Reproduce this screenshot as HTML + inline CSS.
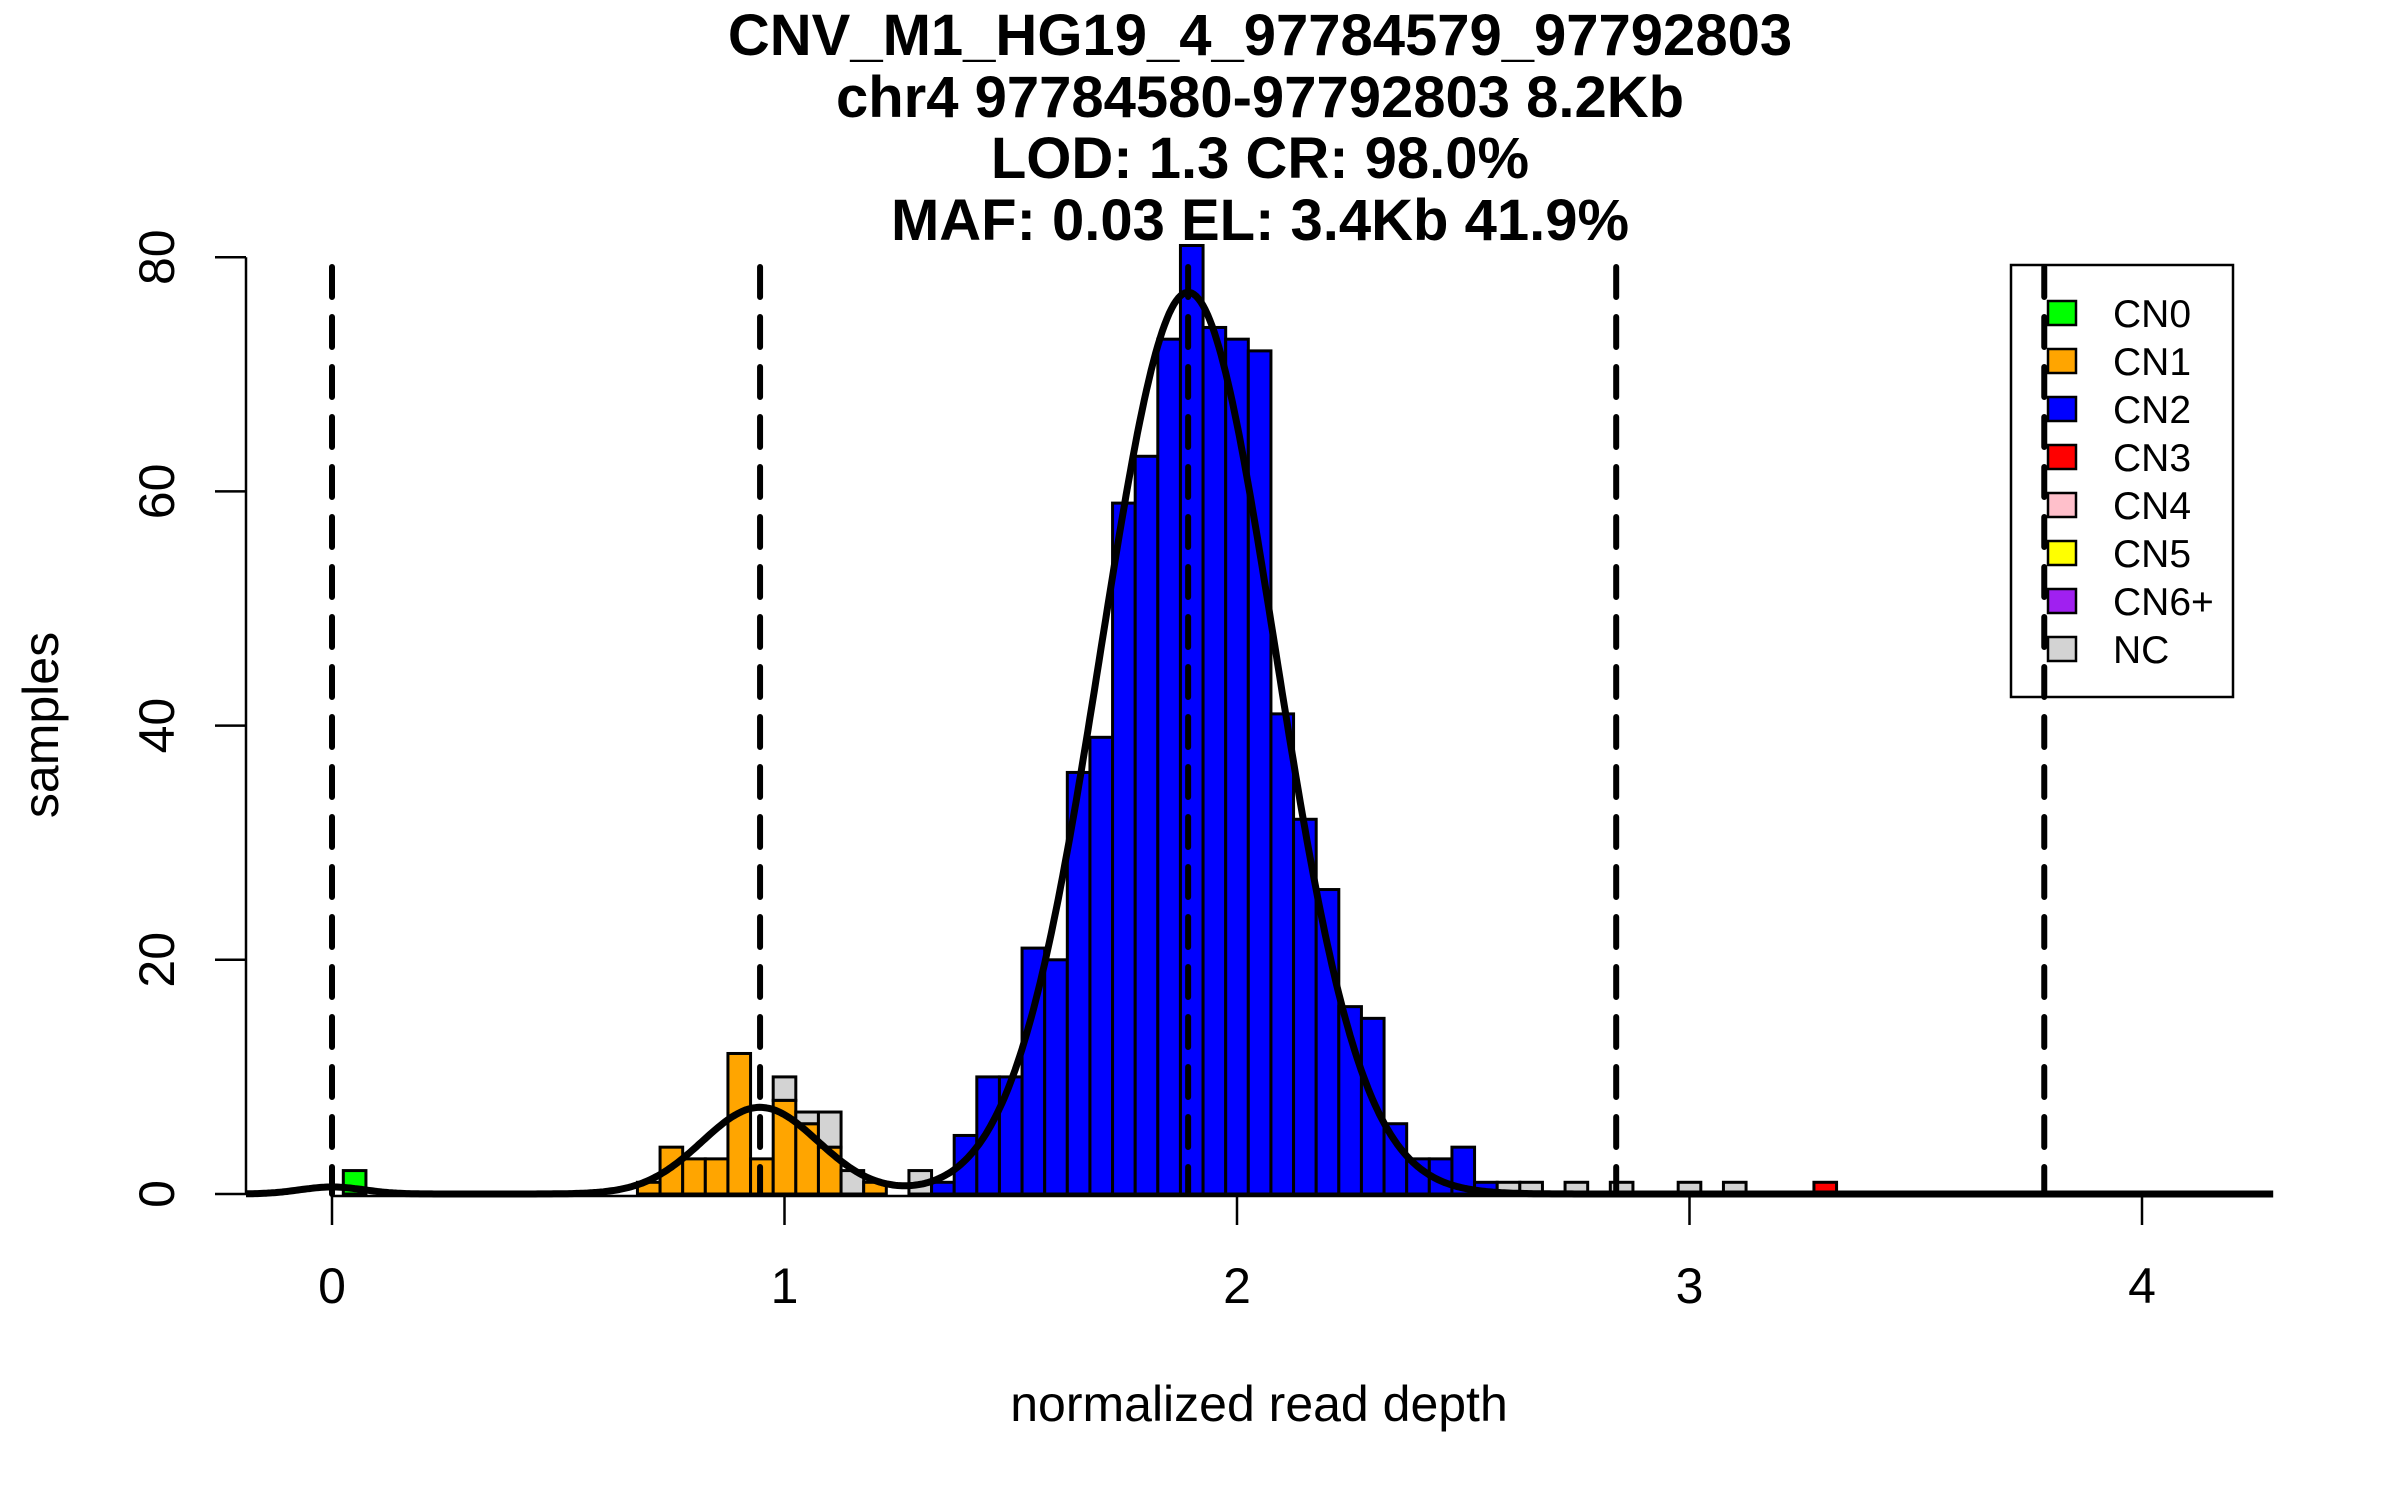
<!DOCTYPE html>
<html><head><meta charset="utf-8"><style>
html,body{margin:0;padding:0;background:#fff;}
svg{display:block;font-family:"Liberation Sans",Arial,sans-serif;}
</style></head><body>
<svg id="chart" width="2400" height="1500" viewBox="0 0 2400 1500" xmlns="http://www.w3.org/2000/svg">
<g font-weight="bold" font-size="58" text-anchor="middle">
<text x="1260" y="55">CNV_M1_HG19_4_97784579_97792803</text>
<text x="1260" y="117">chr4 97784580-97792803 8.2Kb</text>
<text x="1260" y="178">LOD: 1.3 CR: 98.0%</text>
<text x="1260" y="240">MAF: 0.03 EL: 3.4Kb 41.9%</text>
</g>
<g id="bars"></g>
<g id="curve"></g>
<g id="axes"></g>
<text x="1259" y="1421" font-size="50" text-anchor="middle">normalized read depth</text>
<text x="0" y="0" font-size="50" text-anchor="middle" transform="translate(58,725) rotate(-90)">samples</text>
<g id="legend"></g>
<g id="dashes"></g>
</svg>
<script>
// ---- data ----
const binCenters = [0.05,0.70,0.75,0.80,0.85,0.90,0.95,1.00,1.05,1.10,1.15,1.20,1.30,1.35,1.40,1.45,1.50,1.55,1.60,1.65,1.70,1.75,1.80,1.85,1.90,1.95,2.00,2.05,2.10,2.15,2.20,2.25,2.30,2.35,2.40,2.45,2.50,2.55,2.60,2.65,2.75,2.85,3.00,3.10,3.30];
const cn0Counts = [2,0,0,0,0,0,0,0,0,0,0,0,0,0,0,0,0,0,0,0,0,0,0,0,0,0,0,0,0,0,0,0,0,0,0,0,0,0,0,0,0,0,0,0,0];
const cn1Counts = [0,1,4,3,3,12,3,8,6,4,0,1,0,0,0,0,0,0,0,0,0,0,0,0,0,0,0,0,0,0,0,0,0,0,0,0,0,0,0,0,0,0,0,0,0];
const cn2Counts = [0,0,0,0,0,0,0,0,0,0,0,0,0,1,5,10,10,21,20,36,39,59,63,73,81,74,73,72,41,32,26,16,15,6,3,3,4,1,0,0,0,0,0,0,0];
const cn3Counts = [0,0,0,0,0,0,0,0,0,0,0,0,0,0,0,0,0,0,0,0,0,0,0,0,0,0,0,0,0,0,0,0,0,0,0,0,0,0,0,0,0,0,0,0,1];
const ncCounts  = [0,0,0,0,0,0,0,2,1,3,2,0,2,0,0,0,0,0,0,0,0,0,0,0,0,0,0,0,0,0,0,0,0,0,0,0,0,0,1,1,1,1,1,1,0];
const binWidth = 0.05;
const compMeans = [0, 0.946, 1.892];
const compPeaks = [0.6, 7.4, 77];
const compSds = [0.07, 0.128, 0.192];
const cnLines = [0, 0.946, 1.892, 2.838, 3.784];
const xTicks = [0,1,2,3,4];
const yTicks = [0,20,40,60,80];
const legendLabels = ["CN0","CN1","CN2","CN3","CN4","CN5","CN6+","NC"];
const legendColors = ["#00ff00","#ffa500","#0000ff","#ff0000","#ffc0cb","#ffff00","#a020f0","#d3d3d3"];

const NS = "http://www.w3.org/2000/svg";
const X = v => 332 + v * 452.5;
const Y = c => 1194 - c * 11.71;
function mk(tag, attrs, parent){const e=document.createElementNS(NS,tag);for(const k in attrs)e.setAttribute(k,attrs[k]);parent.appendChild(e);return e;}

// bars
const barsG = document.getElementById('bars');
const series = [[cn0Counts,"#00ff00","cn0"],[cn1Counts,"#ffa500","cn1"],[cn2Counts,"#0000ff","cn2"],[cn3Counts,"#ff0000","cn3"],[ncCounts,"#d3d3d3","nc"]];
binCenters.forEach((c,i)=>{
  let base = 0;
  series.forEach(s=>{
    const v = s[0][i];
    if(v>0){
      const r = mk('rect',{x:X(c-binWidth/2),y:Y(base+v),width:X(c+binWidth/2)-X(c-binWidth/2),height:Y(base)-Y(base+v),fill:s[1],stroke:'#000','stroke-width':3},barsG);
      
      
      base += v;
    }
  });
});

// curve
const curveG = document.getElementById('curve');
let d = "";
for(let v=-0.19; v<=4.29; v+=0.005){
  let y=0;
  for(let k=0;k<compMeans.length;k++){y+=compPeaks[k]*Math.exp(-0.5*Math.pow((v-compMeans[k])/compSds[k],2));}
  d += (d===""?"M":"L")+X(v).toFixed(1)+","+Y(y).toFixed(1);
}
const cp = mk('path',{d:d,fill:'none',stroke:'#000','stroke-width':7,'stroke-linejoin':'round'},curveG);



// axes
const ax = document.getElementById('axes');
const yl = mk('line',{x1:246,y1:Y(80),x2:246,y2:Y(0),stroke:'#000','stroke-width':2.5},ax);


yTicks.forEach(t=>{
  const tk = mk('line',{x1:215,y1:Y(t),x2:246,y2:Y(t),stroke:'#000','stroke-width':2.5},ax);
  
  
  const tx = mk('text',{x:0,y:0,'font-size':50,'text-anchor':'middle',transform:'translate(174,'+Y(t)+') rotate(-90)'},ax);
  tx.textContent = t;
  
  
});
const xl = mk('line',{x1:X(0),y1:1196,x2:X(4),y2:1196,stroke:'#000','stroke-width':2.5},ax);


xTicks.forEach(t=>{
  const tk = mk('line',{x1:X(t),y1:1194,x2:X(t),y2:1225,stroke:'#000','stroke-width':2.5},ax);
  
  
  const tx = mk('text',{x:X(t),y:1303,'font-size':50,'text-anchor':'middle'},ax);
  tx.textContent = t;
  
  
});

// legend
const lg = document.getElementById('legend');
const box = mk('rect',{x:2011,y:265,width:222,height:432,fill:'#fff',stroke:'#000','stroke-width':2.5},lg);


legendLabels.forEach((lab,i)=>{
  const cy = 313 + i*48;
  const sw = mk('rect',{x:2048,y:cy-12,width:28,height:24,fill:legendColors[i],stroke:'#000','stroke-width':2.5},lg);
  
  
  const tx = mk('text',{x:2113,y:cy+14,'font-size':39},lg);
  tx.textContent = lab;
  
  
});

// dashed CN lines
const dg = document.getElementById('dashes');
cnLines.forEach((v,i)=>{
  const l = mk('line',{x1:X(v),y1:267,x2:X(v),y2:Y(0),stroke:'#000','stroke-width':6,'stroke-dasharray':'30,20','stroke-linecap':'round'},dg);
  
  
});
</script>
</body></html>
